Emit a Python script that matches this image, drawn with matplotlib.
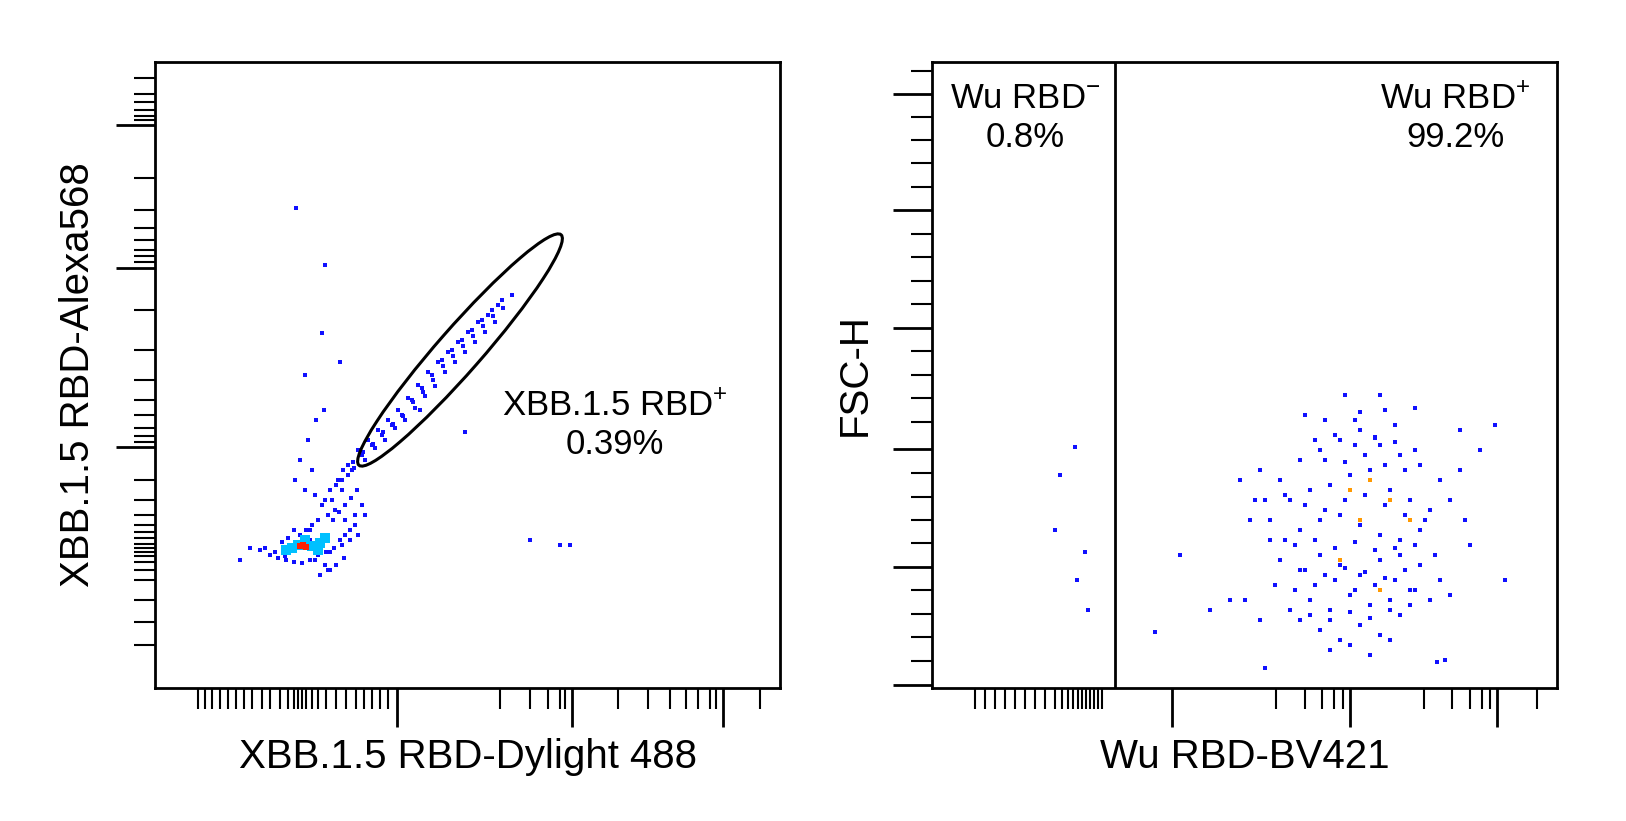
import matplotlib
matplotlib.use("Agg")
import matplotlib.pyplot as plt
from matplotlib.patches import Ellipse

plt.rcParams["font.family"] = "Liberation Sans"
plt.rcParams["mathtext.fontset"] = "custom"
plt.rcParams["mathtext.rm"] = "Liberation Sans"

W, H = 1626, 821

# --- left panel events in pixel coordinates (x, y from top)
left_blue_x = [300, 290, 310, 320, 330, 285, 275, 265, 340, 350, 345, 335, 325, 315, 305, 295, 312, 322,
               332, 342, 352, 362, 372, 382, 392, 402, 412, 422, 432, 442, 452, 462, 472, 482, 492, 502, 512,
               338, 348, 358, 368, 378, 388, 398, 408, 418, 428, 438, 448, 458, 468, 478, 488, 498,
               318, 328, 310, 315, 325, 330, 345, 355, 365, 300, 308, 316, 324, 260, 250, 240, 355, 362,
               296, 325, 322, 340, 305, 560, 570, 530, 465, 420,
               343, 353, 363, 373, 383, 393, 403, 413, 423, 433, 443, 453, 463, 473, 483, 493, 503,
               365, 375, 385, 395, 405, 415, 425, 435, 445, 455, 465, 475, 485, 495,
               330, 336, 342, 348, 354, 333, 339, 345, 351, 357, 318, 324, 312, 306, 300, 294, 288, 282,
               270, 278, 286, 294, 302, 310, 318, 326, 334, 342, 350, 358, 320, 328, 336, 344]
left_blue_y = [545, 550, 540, 548, 552, 556, 552, 548, 540, 530, 520, 510, 500, 495, 490, 480, 470, 505,
               500, 490, 470, 455, 445, 435, 425, 415, 400, 388, 375, 360, 350, 340, 330, 320, 310, 300, 295,
               480, 465, 450, 440, 430, 420, 410, 398, 385, 372, 362, 352, 342, 332, 322, 315, 305,
               520, 515, 530, 560, 565, 570, 535, 525, 515, 460, 440, 420, 410, 550, 548, 560, 515, 505,
               208, 265, 333, 362, 375, 545, 545, 540, 432, 410,
               470, 462, 452, 444, 432, 424, 416, 402, 392, 380, 366, 356, 346, 336, 326, 316, 308,
               460, 448, 440, 428, 420, 408, 396, 386, 372, 362, 352, 342, 332, 322,
               490, 485, 480, 475, 468, 520, 512, 505, 498, 490, 540, 535, 525, 530, 535, 530, 538, 542,
               555, 558, 560, 562, 563, 560, 555, 552, 548, 545, 540, 535, 575, 570, 565, 558]
left_cyan_x = [298, 305, 312, 318, 292, 325, 286, 320]
left_cyan_y = [545, 540, 546, 550, 548, 538, 550, 543]
left_hot_x = [303, 306, 300]
left_hot_y = [545, 547, 546]

# --- right panel events
right_blue_x = [1260, 1280, 1300, 1320, 1340, 1360, 1380, 1400, 1420, 1440, 1460, 1290, 1310, 1330, 1350,
                1370, 1390, 1410, 1430, 1300, 1320, 1340, 1360, 1380, 1400, 1420, 1280, 1300, 1320, 1340,
                1360, 1380, 1400, 1420, 1440, 1310, 1330, 1350, 1370, 1390, 1410, 1300, 1320, 1340, 1360,
                1380, 1400, 1330, 1350, 1370, 1390, 1250, 1270, 1460, 1480, 1495, 1505, 1230, 1210, 1180,
                1155, 1265, 1437, 1380, 1305, 1360, 1415, 1345, 1385, 1325, 1395, 1355, 1375, 1265, 1445,
                1075, 1060, 1085, 1055, 1077, 1088,
                1315, 1335, 1355, 1375, 1395, 1415, 1325, 1345, 1365, 1385, 1405, 1285, 1305, 1325, 1345,
                1365, 1385, 1405, 1425, 1295, 1315, 1335, 1355, 1375, 1395, 1415, 1435, 1275, 1295, 1315,
                1335, 1355, 1375, 1395, 1415, 1305, 1325, 1345, 1365, 1385, 1405, 1290, 1310, 1330, 1350,
                1370, 1390, 1410, 1430, 1450, 1240, 1255, 1270, 1285, 1450, 1465, 1470, 1245, 1260]
right_blue_y = [470, 480, 460, 450, 440, 430, 445, 455, 465, 480, 470, 500, 490, 485, 475, 470, 490, 500,
                510, 530, 520, 515, 525, 535, 540, 530, 560, 570, 555, 565, 575, 560, 555, 565, 580,
                600, 610, 595, 605, 600, 590, 620, 630, 640, 625, 635, 615, 650, 645, 655, 640, 520, 540,
                430, 450, 425, 580, 600, 610, 555, 632, 500, 662, 395, 415, 412, 408, 395, 410, 420, 425,
                420, 437, 668, 660, 447, 475, 552, 530, 580, 610,
                440, 435, 445, 438, 442, 450, 460, 462, 455, 465, 470, 495, 505, 510, 500, 495, 505, 515,
                520, 545, 540, 548, 542, 550, 548, 545, 555, 585, 590, 585, 580, 590, 585, 580, 590,
                570, 575, 568, 572, 578, 570, 610, 615, 620, 612, 618, 610, 605, 600, 595, 480, 500, 520,
                540, 500, 520, 545, 600, 620]
right_orange_x = [1350, 1370, 1390, 1360, 1340, 1410, 1380]
right_orange_y = [490, 480, 500, 520, 560, 520, 590]

fig = plt.figure(figsize=(W / 100, H / 100), dpi=100)


def make_ax(x0, x1, y0, y1):
    return fig.add_axes([x0 / W, 1 - y1 / H, (x1 - x0) / W, (y1 - y0) / H])


def fx(px, x0=155):
    return [(p - x0) / 625 for p in px]


def fy(py):
    return [(688 - p) / 626 for p in py]


axL = make_ax(155, 780, 62, 688)
axR = make_ax(932, 1557, 62, 688)
for ax in (axL, axR):
    ax.set_xlim(0, 1)
    ax.set_ylim(0, 1)
    for s in ax.spines.values():
        s.set_linewidth(2)

ms = dict(marker="s", s=8, linewidths=0)
axL.scatter(fx(left_blue_x), fy(left_blue_y), color="#1010ff", **ms)
axL.scatter(fx(left_cyan_x), fy(left_cyan_y), color="#00c0ff", s=50, marker="s", linewidths=0)
axL.scatter(fx(left_hot_x), fy(left_hot_y), color="#ff2000", s=16, marker="s", linewidths=0)
axR.scatter(fx(right_blue_x, 932), fy(right_blue_y), color="#1010ff", **ms)
axR.scatter(fx(right_orange_x, 932), fy(right_orange_y), color="#ff9900", **ms)

axL.add_patch(Ellipse(((460 - 155) / 625, (688 - 350) / 626), 0.49, 0.07, angle=48.7,
                      fill=False, lw=2.2, color="black"))
axL.text((615 - 155) / 625, (688 - 425) / 626, "XBB.1.5 RBD$^{+}$\n0.39%", ha="center", va="center",
         fontsize=25, linespacing=1.2)
axR.axvline((1115 - 932) / 625, color="black", lw=2)
axR.text((1025 - 932) / 625, (688 - 118) / 626, "Wu RBD$^{-}$\n0.8%", ha="center", va="center",
         fontsize=25, linespacing=1.2)
axR.text((1455 - 932) / 625, (688 - 118) / 626, "Wu RBD$^{+}$\n99.2%", ha="center", va="center",
         fontsize=25, linespacing=1.2)

axL.set_xlabel("XBB.1.5 RBD-Dylight 488", fontsize=29, labelpad=8)
axL.set_ylabel("XBB.1.5 RBD-Alexa568", fontsize=29, labelpad=14)
axR.set_xlabel("Wu RBD-BV421", fontsize=29, labelpad=8)
axR.set_ylabel("FSC-H", fontsize=29, labelpad=14)

# tick positions in pixels
lx_major = [397, 572, 723]
lx_minor = [198, 205, 212, 220, 228, 236, 244, 252, 262, 270, 280, 288, 294, 298, 302, 306, 312, 318,
            326, 336, 346, 356, 364, 372, 380, 388, 500, 530, 548, 560, 565, 618, 648, 670, 686, 698, 710,
            716, 760]
ly_major = [125, 268, 447]
ly_minor = [78, 94, 102, 110, 116, 120, 178, 210, 228, 240, 250, 256, 262, 310, 350, 380, 400, 415, 428,
            436, 442, 480, 500, 515, 525, 532, 538, 544, 548, 552, 556, 562, 570, 580, 600, 622, 645]
rx_major = [1172, 1350, 1497]
rx_minor = [975, 985, 995, 1005, 1015, 1025, 1035, 1045, 1055, 1062, 1068, 1073, 1078, 1082, 1086, 1090,
            1094, 1098, 1102, 1276, 1305, 1322, 1334, 1343, 1424, 1452, 1470, 1482, 1490, 1537]
ry_major = [94, 210, 328, 449, 567, 685]
ry_minor = [71, 117, 140, 163, 187, 234, 257, 281, 304, 351, 375, 398, 422, 473, 497, 520, 543, 590, 614,
            637, 661]

for ax, xmaj, xmin, ymaj, ymin, x0 in [(axL, lx_major, lx_minor, ly_major, ly_minor, 155),
                                        (axR, rx_major, rx_minor, ry_major, ry_minor, 932)]:
    ax.set_xticks(fx(xmaj, x0))
    ax.set_xticks(fx(xmin, x0), minor=True)
    ax.set_yticks(fy(ymaj))
    ax.set_yticks(fy(ymin), minor=True)
    ax.tick_params(which="major", length=28, width=2, labelbottom=False, labelleft=False)
    ax.tick_params(which="minor", length=15, width=1.5)
    ax.tick_params(axis="x", which="both", pad=0)

fig.savefig("out.png", dpi=100)
